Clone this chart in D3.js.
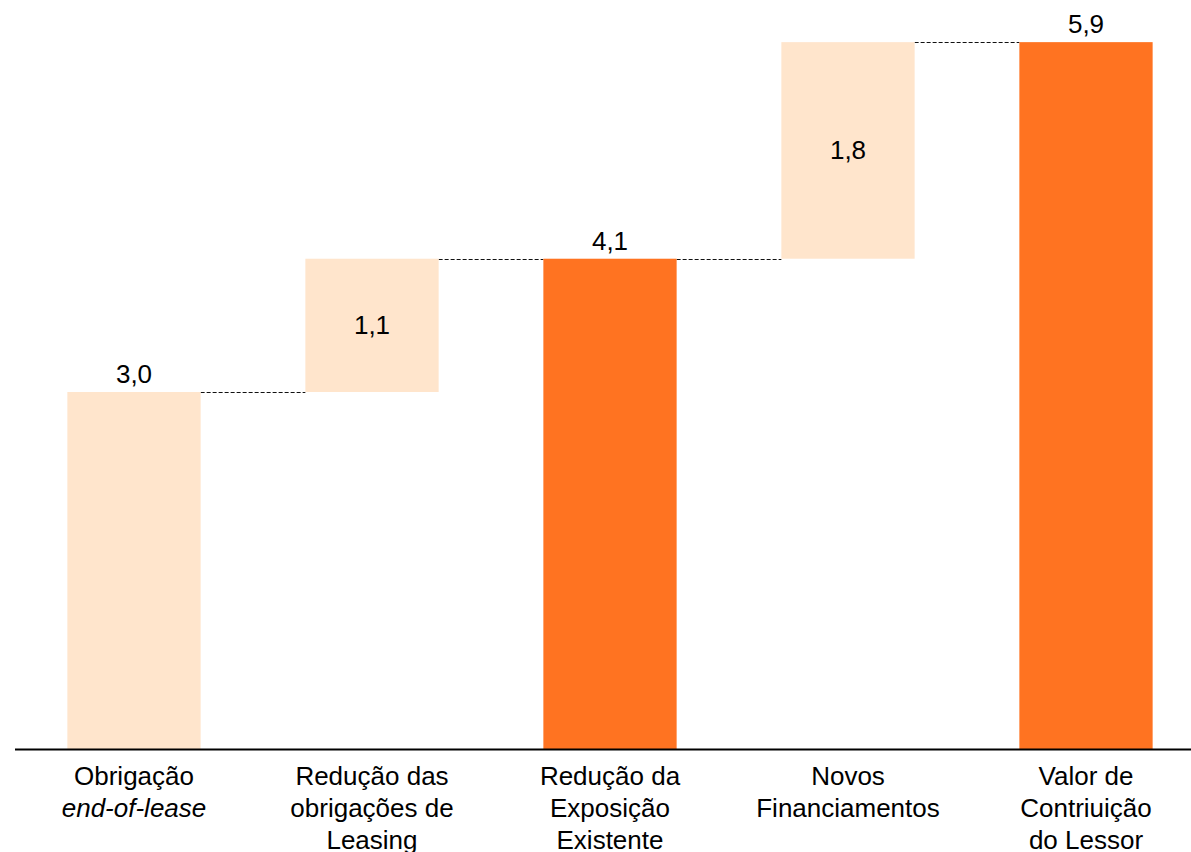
<!DOCTYPE html>
<meta charset="utf-8">
<style>
  body { margin: 0; background: #fff; }
  svg { display: block; font-family: "Liberation Sans", Arial, sans-serif; }
</style>
<svg width="1191" height="852"></svg>
<script src="https://d3js.org/d3.v7.min.js"></script>
<script>
// categories (label lines, italic flag for second line of first one)
const categories = [
  ["Obrigação", "end-of-lease"],
  ["Redução das", "obrigações de", "Leasing"],
  ["Redução da", "Exposição", "Existente"],
  ["Novos", "Financiamentos"],
  ["Valor de", "Contriuição", "do Lessor"]
]
// step value; "total" bars start from zero
const values = [3.0, 1.12, 4.12, 1.82, 5.94]
const kinds = ["start", "delta", "total", "delta", "total"]

const svg = d3.select("svg")
const baseY = 749

const x = d3.scaleBand()
  .domain(d3.range(categories.length))
  .range([15, 1205])
  .paddingInner(0.44)
  .paddingOuter(0.22)

const y = d3.scaleLinear().domain([0, 6]).range([baseY, 35])

// running totals -> [from, to] for each bar
let run = 0
const bars = values.map((v, i) => {
  let lo, hi
  if (kinds[i] === "delta") { lo = run; hi = run + v; run = hi }
  else { lo = 0; hi = v; run = v }
  return { i, lo, hi, v, kind: kinds[i] }
})

const fmt = v => v.toFixed(1).replace(".", ",")

// connectors
svg.append("g").selectAll("line")
  .data(bars.slice(0, -1))
  .join("line")
  .attr("x1", d => x(d.i) + x.bandwidth())
  .attr("x2", d => x(d.i + 1))
  .attr("y1", d => Math.round(y(d.hi)) + 0.5)
  .attr("y2", d => Math.round(y(d.hi)) + 0.5)
  .attr("stroke", "#111")
  .attr("stroke-width", 1)
  .attr("stroke-dasharray", "4,2")

svg.append("g").selectAll("rect")
  .data(bars)
  .join("rect")
  .attr("x", d => x(d.i))
  .attr("width", x.bandwidth())
  .attr("y", d => y(d.hi))
  .attr("height", d => y(d.lo) - y(d.hi))
  .attr("fill", d => d.kind === "total" ? "#FF7321" : "#FFE5CC")

// value labels
svg.append("g").selectAll("text")
  .data(bars)
  .join("text")
  .attr("x", d => x(d.i) + x.bandwidth() / 2)
  .attr("y", d => d.kind === "delta" ? (y(d.lo) + y(d.hi)) / 2 + 9 : y(d.hi) - 9)
  .attr("text-anchor", "middle")
  .attr("font-size", 26)
  .attr("fill", "#000")
  .text(d => fmt(d.v))

// baseline
svg.append("line")
  .attr("x1", 15).attr("x2", 1191)
  .attr("y1", baseY + 0.5).attr("y2", baseY + 0.5)
  .attr("stroke", "#000").attr("stroke-width", 2)

// category labels
const lab = svg.append("g").selectAll("text")
  .data(categories)
  .join("text")
  .attr("text-anchor", "middle")
  .attr("font-size", 26)
  .attr("fill", "#000")

lab.selectAll("tspan")
  .data((d, i) => d.map((t, j) => ({ t, j, i })))
  .join("tspan")
  .attr("x", d => x(d.i) + x.bandwidth() / 2)
  .attr("y", d => 785 + d.j * 32)
  .attr("font-style", d => d.i === 0 && d.j === 1 ? "italic" : null)
  .text(d => d.t)
</script>
